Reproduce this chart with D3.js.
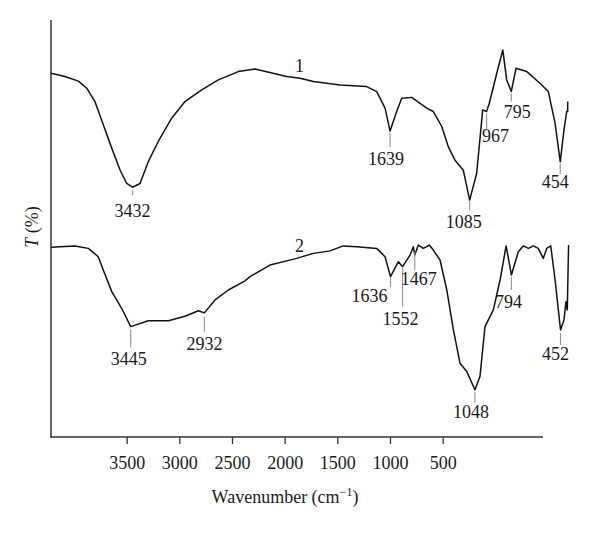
<!DOCTYPE html>
<html lang="en">
<head>
<meta charset="utf-8">
<title>FTIR spectra</title>
<script src="https://d3js.org/d3.v7.min.js"></script>
<style>
body { margin: 0; background: #fff; }
text { font-family: "Liberation Serif", "DejaVu Serif", serif; fill: #1a1a1a; }
.axis path { display: none; }
.axis line { stroke: #333; stroke-width: 1.3; }
.axis text { font-size: 18px; }
</style>
</head>
<body>
<script>
// spectrum 1
var wave1 = [4000, 3902, 3810, 3751, 3694, 3636, 3577, 3520, 3473, 3432, 3380, 3322, 3253, 3160, 3067, 2951,
  2835, 2696, 2579, 2359, 2266, 2173, 1987, 1802, 1732, 1674, 1639, 1593, 1558, 1488, 1384, 1338, 1279,
  1233, 1187, 1129, 1085, 1036, 994, 967, 948, 896, 854, 827, 795, 762, 687, 595, 537, 490, 454, 428, 409, 402, 402];
var trans1 = [87.2, 86.4, 85.3, 83.6, 80.4, 74.8, 69.2, 64.0, 60.7, 59.8, 60.7, 66.0, 70.8, 76.4, 80.4, 83.2,
  85.6, 87.6, 88.2, 86.4, 86.0, 85.2, 84.4, 84.0, 82.8, 78.8, 73.3, 78.0, 81.2, 81.4, 78.8, 78.0, 74.4,
  69.5, 66.3, 63.9, 56.7, 63.1, 78.4, 78.0, 80.0, 87.2, 92.8, 85.6, 82.8, 88.4, 87.6, 84.8, 82.8, 75.2, 65.9, 73.6, 78.0, 78.0, 80.4];

// spectrum 2
var wave2 = [4000, 3833, 3740, 3671, 3636, 3577, 3508, 3445, 3322, 3183, 3067, 2974, 2932, 2858, 2765, 2649,
  2614, 2475, 2289, 2173, 2057, 1965, 1871, 1732, 1674, 1636, 1581, 1552, 1500, 1477, 1467, 1442, 1407,
  1366, 1338, 1291, 1244, 1198, 1152, 1105, 1048, 1013, 978, 920, 873, 831, 794, 746, 711, 676, 641, 607,
  572, 548, 520, 490, 452, 428, 414, 405, 396];
var trans2 = [45.4, 45.7, 45.1, 43.1, 39.9, 34.7, 30.7, 26.3, 27.7, 27.7, 28.8, 30.1, 29.6, 32.7, 35.1, 37.3,
  38.3, 41.1, 42.7, 43.9, 44.5, 45.7, 45.5, 45.1, 43.1, 38.3, 41.9, 40.7, 43.5, 45.5, 43.5, 45.9, 45.1,
  45.9, 44.7, 42.3, 35.1, 25.5, 17.5, 15.5, 11.1, 14.3, 26.3, 30.3, 37.5, 45.7, 38.7, 44.3, 45.7, 45.1, 45.7, 45.1,
  42.7, 45.1, 45.7, 37.5, 25.5, 27.9, 32.3, 30.3, 45.9];

var peaks1 = [3432, 1639, 1085, 967, 795, 454];
var peaks2 = [3445, 2932, 1636, 1552, 1467, 1048, 794, 452];
var tickLabels = [3500, 3000, 2500, 2000, 1500, 1000, 500];

// label layout: [gap below curve, marker length, text dx, text drop below marker]
var layout1 = [[3, 5, 0, 22], [2, 14, -4, 18], [1, 9, -6, 18], [2, 16, 9, 12], [2, 8, 6, 16], [2, 10, -5, 14]];
var layout2 = [[3, 18, -2, 17], [4, 15, 0, 18], [1, 9, -21, 15], [0, 40, -2, 18], [-3, 18, 4, 15],
  [2, 11, -4, 15], [2, 13, -3, 18], [3, 12, -5, 15]];

var w = 600, h = 533;
var svg = d3.select("body").append("svg").attr("width", w).attr("height", h);

var x = d3.scaleLinear().domain([4000, 400]).range([51, 568]);
var y = d3.scaleLinear().domain([0, 100]).range([436, 20]);
// the printed tick labels sit on their own scale
var xTicks = d3.scaleLinear().domain([4000, 0]).range([74, 495.3]);

var line = d3.line().x(function(d){ return x(d[0]); }).y(function(d){ return y(d[1]); });

function drawSeries(waves, vals, peaks, lay) {
  var pts = waves.map(function(v, i){ return [v, vals[i]]; });
  svg.append("path").datum(pts)
    .attr("d", line)
    .attr("fill", "none")
    .attr("stroke", "#111")
    .attr("stroke-width", 1.5)
    .attr("stroke-linejoin", "round");

  peaks.forEach(function(p, i){
    var t = vals[waves.indexOf(p)];
    var l = lay[i];
    var px = x(p), top = y(t) + l[0], bot = top + l[1];
    svg.append("line")
      .attr("x1", px).attr("x2", px).attr("y1", top).attr("y2", bot)
      .attr("stroke", "#999").attr("stroke-width", 1.2);
    svg.append("text")
      .attr("x", px + l[2]).attr("y", bot + l[3])
      .attr("text-anchor", "middle")
      .style("font-size", "18px")
      .text(p);
  });
}

drawSeries(wave1, trans1, peaks1, layout1);
drawSeries(wave2, trans2, peaks2, layout2);

// curve numbers
svg.append("text").attr("x", x(2270)).attr("y", y(87.5)).attr("text-anchor", "middle")
  .style("font-size", "18px").text("1");
svg.append("text").attr("x", x(2270)).attr("y", y(44.2)).attr("text-anchor", "middle")
  .style("font-size", "18px").text("2");

// frame
svg.append("line").attr("x1", 51).attr("x2", 51).attr("y1", 20).attr("y2", 437)
  .attr("stroke", "#333").attr("stroke-width", 1.5);
svg.append("line").attr("x1", 50.25).attr("x2", 543).attr("y1", 437).attr("y2", 437)
  .attr("stroke", "#333").attr("stroke-width", 1.5);

svg.append("g")
  .attr("class", "axis")
  .attr("transform", "translate(0,437)")
  .call(d3.axisBottom(xTicks).tickValues(tickLabels).tickSize(7).tickPadding(12).tickFormat(d3.format("d")));

var xt = svg.append("text").attr("x", 285).attr("y", 503).attr("text-anchor", "middle").style("font-size", "18px");
xt.append("tspan").text("Wavenumber (cm");
xt.append("tspan").attr("dy", -7).style("font-size", "12px").text("\u22121");
xt.append("tspan").attr("dy", 7).text(")");

var yt = svg.append("text").attr("transform", "translate(38,227) rotate(-90)")
  .attr("text-anchor", "middle").style("font-size", "18px");
yt.append("tspan").style("font-style", "italic").text("T");
yt.append("tspan").text(" (%)");
</script>
</body>
</html>
